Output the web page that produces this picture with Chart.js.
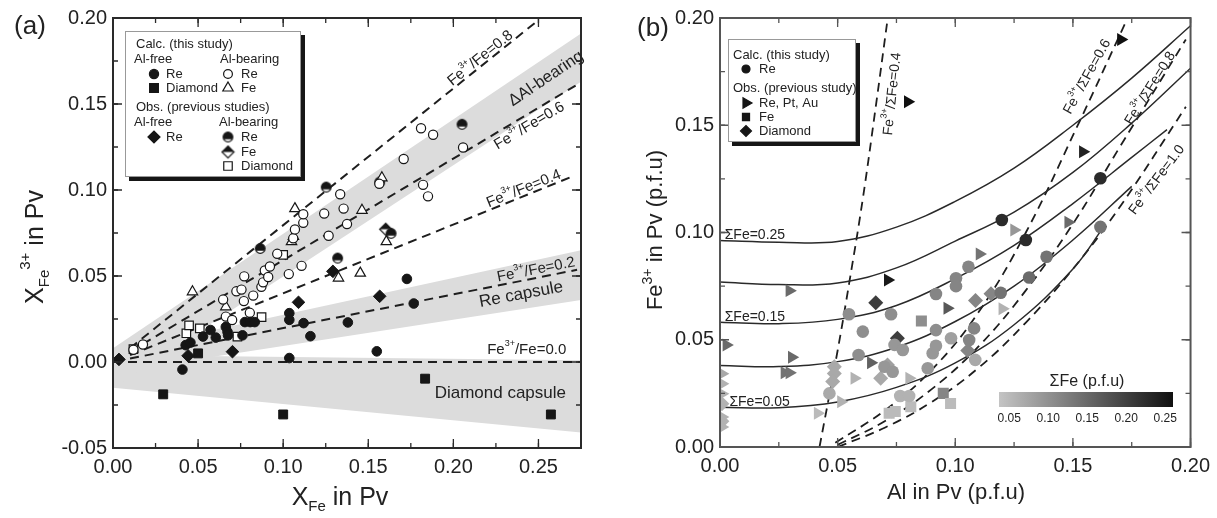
<!DOCTYPE html>
<html>
<head>
<meta charset="utf-8">
<title>Fe3+ in Pv</title>
<script src="https://cdn.jsdelivr.net/npm/chart.js@4.4.1/dist/chart.umd.min.js"></script>
<style>
  html, body { margin: 0; padding: 0; background: #fff; }
  #wrap { position: relative; width: 1217px; height: 518px; overflow: hidden; }
  canvas { position: absolute; top: 0; }
  #chartA { left: 0; }
  #chartB { left: 600px; }
</style>
</head>
<body>
<div id="wrap">
  <canvas id="chartA" width="600" height="518" style="width:600px;height:518px"></canvas>
  <canvas id="chartB" width="617" height="518" style="width:617px;height:518px"></canvas>
</div>
<script>
// ---------- panel (a): X_Fe3+ against X_Fe ----------
// Calc. (this study), Al-free
const calcFreeReX = [0.0408, 0.0427, 0.0455, 0.0529, 0.0573, 0.0604, 0.0663, 0.0673, 0.0676, 0.0761, 0.0775, 0.0806, 0.0833, 0.1036, 0.1036, 0.1120, 0.1160, 0.1380, 0.1036, 0.1550, 0.1727, 0.1767];
const calcFreeReY = [-0.0044, 0.0098, 0.0113, 0.0148, 0.0186, 0.0142, 0.0204, 0.0175, 0.0155, 0.0155, 0.0232, 0.0232, 0.0232, 0.0284, 0.0245, 0.0226, 0.0150, 0.0230, 0.0023, 0.0062, 0.0483, 0.0340];
const calcFreeDiaX = [0.0295, 0.0500, 0.1000, 0.1834, 0.2573];
const calcFreeDiaY = [-0.0188, 0.0050, -0.0305, -0.0097, -0.0305];
// Calc. (this study), Al-bearing
const calcAlReX = [0.0120, 0.0176, 0.0647, 0.0663, 0.0700, 0.0725, 0.0755, 0.0769, 0.0771, 0.0804, 0.0824, 0.0872, 0.0882, 0.0892, 0.0912, 0.0922, 0.0965, 0.1033, 0.1059, 0.1069, 0.1108, 0.1118, 0.1118, 0.1241, 0.1267, 0.1335, 0.1355, 0.1375, 0.1565, 0.1708, 0.1810, 0.1822, 0.1851, 0.1881, 0.2057];
const calcAlReY = [0.0071, 0.0102, 0.0363, 0.0264, 0.0244, 0.0411, 0.0421, 0.0354, 0.0498, 0.0286, 0.0386, 0.0437, 0.0463, 0.0532, 0.0494, 0.0555, 0.0629, 0.0511, 0.0719, 0.0771, 0.0559, 0.0809, 0.0859, 0.0863, 0.0734, 0.0975, 0.0892, 0.0802, 0.1036, 0.1180, 0.1359, 0.1030, 0.0963, 0.1321, 0.1247];
const calcAlFeX = [0.0467, 0.0663, 0.1049, 0.1060, 0.1069, 0.1325, 0.1453, 0.1463, 0.1580, 0.1606];
const calcAlFeY = [0.0408, 0.0321, 0.0700, 0.0730, 0.0892, 0.0488, 0.0517, 0.0882, 0.1071, 0.0700];
// Obs. (previous studies)
const obsFreeReX = [0.0035, 0.0441, 0.0702, 0.1090, 0.1292, 0.1567];
const obsFreeReY = [0.0015, 0.0036, 0.0060, 0.0347, 0.0527, 0.0382];
const obsAlReX = [0.0865, 0.1253, 0.1320, 0.1567, 0.1634, 0.2051];
const obsAlReY = [0.0660, 0.1017, 0.0604, 0.1046, 0.0748, 0.1382];
const obsAlFeX = [0.1602];
const obsAlFeY = [0.0772];
const obsAlDiaX = [0.0120, 0.0431, 0.0447, 0.0510, 0.0731, 0.0873, 0.1000];
const obsAlDiaY = [0.0075, 0.0167, 0.0213, 0.0196, 0.0148, 0.0261, 0.0623];
// Fe3+/Fe reference lines (end points)
const ratioNames = ['0.0', '0.2', '0.4', '0.6', '0.8'];
const ratioLineX = [[0, 0.275], [0.010, 0.2727], [0.010, 0.2688], [0.010, 0.2757], [0.010, 0.2490]];
const ratioLineY = [[0, 0], [0.0020, 0.0536], [0.0040, 0.1074], [0.0060, 0.1630], [0.0080, 0.1980]];
// shaded trends
const bandX = [0, 0.275];
const bandAlTop = [0.008, 0.191];
const bandAlBottom = [-0.015, 0.163];
const bandReTop = [0.006, 0.065];
const bandReBottom = [-0.006, 0.036];
const bandDiaTop = [0.004, 0.001];
const bandDiaBottom = [-0.015, -0.041];

// ---------- panel (b): Fe3+ against Al ----------
const calcReX = [0.1198, 0.1300, 0.1617, 0.1617, 0.1388, 0.1314, 0.1056, 0.1003, 0.1003, 0.0918, 0.1193, 0.0918, 0.1080, 0.1059, 0.0548, 0.0727, 0.0607, 0.0589, 0.0699, 0.0734, 0.0742, 0.0777, 0.0883, 0.0904, 0.0918, 0.0982, 0.1085, 0.0465, 0.0766, 0.0804];
const calcReY = [0.1058, 0.0965, 0.1253, 0.1026, 0.0887, 0.0790, 0.0840, 0.0787, 0.0750, 0.0713, 0.0719, 0.0545, 0.0553, 0.0499, 0.0619, 0.0619, 0.0538, 0.0429, 0.0374, 0.0351, 0.0476, 0.0452, 0.0367, 0.0437, 0.0472, 0.0507, 0.0406, 0.0250, 0.0238, 0.0238];
const calcReFe = [0.22, 0.22, 0.22, 0.14, 0.14, 0.15, 0.12, 0.12, 0.12, 0.12, 0.14, 0.11, 0.12, 0.12, 0.11, 0.11, 0.11, 0.11, 0.10, 0.10, 0.10, 0.10, 0.10, 0.10, 0.10, 0.09, 0.08, 0.08, 0.07, 0.07];
const obsReX = [0.0798, 0.1704, 0.1542, 0.0713, 0.1480, 0.1250, 0.1103, 0.0966, 0.0295, 0.0027, 0.0305, 0.0274, 0.0295, 0.0641, 0.0571, 0.0804, 0.0514, 0.0415, 0.1200, 0.0008, 0.0008, 0.0008, 0.0008, 0.0008];
const obsReY = [0.1610, 0.1900, 0.1377, 0.0779, 0.1048, 0.1012, 0.0900, 0.0647, 0.0729, 0.0476, 0.0418, 0.0346, 0.0346, 0.0393, 0.0320, 0.0320, 0.0211, 0.0157, 0.0644, 0.0342, 0.0295, 0.0248, 0.0140, 0.0093];
const obsReFe = [0.25, 0.25, 0.23, 0.24, 0.15, 0.10, 0.14, 0.17, 0.15, 0.15, 0.15, 0.14, 0.14, 0.16, 0.07, 0.07, 0.07, 0.06, 0.07, 0.08, 0.07, 0.07, 0.07, 0.07];
const obsFeX = [0.0856, 0.0949, 0.0980, 0.0719, 0.0745, 0.0811];
const obsFeY = [0.0587, 0.0250, 0.0203, 0.0157, 0.0165, 0.0188];
const obsFeFe = [0.11, 0.12, 0.06, 0.06, 0.06, 0.06];
const obsDiaX = [0.0662, 0.0754, 0.1086, 0.1152, 0.1053, 0.0683, 0.0712, 0.0486, 0.0486, 0.0479, 0.0008, 0.0008];
const obsDiaY = [0.0673, 0.0507, 0.0683, 0.0714, 0.0450, 0.0320, 0.0382, 0.0374, 0.0343, 0.0305, 0.0202, 0.0120];
const obsDiaFe = [0.20, 0.20, 0.12, 0.12, 0.12, 0.08, 0.09, 0.08, 0.08, 0.08, 0.07, 0.07];
// sumFe curves (solid)
const sumFeNames = ['0.25', '0.20', '0.15', '0.10', '0.05'];
const sumFeX = [
  [0, 0.025, 0.05, 0.075, 0.1, 0.125, 0.15, 0.175, 0.2],
  [0, 0.025, 0.05, 0.075, 0.1, 0.125, 0.15, 0.175, 0.2],
  [0, 0.025, 0.05, 0.075, 0.1, 0.125, 0.15, 0.175, 0.19],
  [0, 0.025, 0.05, 0.075, 0.1, 0.125, 0.15, 0.175],
  [0, 0.025, 0.05, 0.075, 0.1, 0.125, 0.15, 0.163]
];
const sumFeY = [
  [0.0963, 0.0955, 0.0958, 0.1025, 0.1145, 0.1300, 0.1500, 0.1720, 0.1964],
  [0.0769, 0.0757, 0.0765, 0.0835, 0.0960, 0.1095, 0.1280, 0.1510, 0.1766],
  [0.0582, 0.0575, 0.0595, 0.0660, 0.0785, 0.0940, 0.1135, 0.1350, 0.1480],
  [0.0380, 0.0375, 0.0398, 0.0465, 0.0585, 0.0750, 0.0965, 0.1215],
  [0.0185, 0.0183, 0.0210, 0.0278, 0.0392, 0.0570, 0.0830, 0.1025]
];
// Fe3+/sumFe curves (dashed)
const ratioBNames = ['0.4', '0.6', '0.8', '1.0'];
const ratioBX = [
  [0.0423, 0.0500, 0.0550, 0.0606, 0.0660, 0.0713],
  [0.049, 0.070, 0.090, 0.110, 0.130, 0.1525, 0.172],
  [0.050, 0.070, 0.090, 0.110, 0.130, 0.150, 0.170, 0.198],
  [0.050, 0.070, 0.090, 0.110, 0.130, 0.150, 0.170, 0.198]
];
const ratioBY = [
  [0.0000, 0.0450, 0.0770, 0.1150, 0.1570, 0.2000],
  [0.002, 0.017, 0.036, 0.063, 0.100, 0.151, 0.197],
  [0.001, 0.012, 0.027, 0.047, 0.073, 0.104, 0.140, 0.190],
  [0.000, 0.009, 0.021, 0.037, 0.058, 0.083, 0.112, 0.1586]
];
const colorbarTicks = ['0.05', '0.10', '0.15', '0.20', '0.25'];

// ---------- helpers ----------
const FONT = "'Liberation Sans', Arial, sans-serif";
Chart.defaults.font.family = FONT;
Chart.defaults.color = '#222';
const INK = '#161616';

function pts(xs, ys) { return xs.map((x, i) => ({ x: x, y: ys[i] })); }

function feGray(s) {
  const t = Math.max(0, Math.min(1, (s - 0.05) / 0.2));
  const g = Math.round(196 - t * 180);
  return 'rgb(' + g + ',' + g + ',' + g + ')';
}

// text with super/subscripts: parts = [text, size, dy]
function rich(ctx, parts, x, y, angle, align) {
  ctx.save();
  ctx.translate(x, y);
  ctx.rotate(angle || 0);
  ctx.textBaseline = 'middle';
  ctx.fillStyle = '#222';
  let w = 0;
  parts.forEach(p => { ctx.font = p[1] + 'px ' + FONT; w += ctx.measureText(p[0]).width; });
  let cx = align === 'left' ? 0 : -w / 2;
  parts.forEach(p => {
    ctx.font = p[1] + 'px ' + FONT;
    ctx.fillText(p[0], cx, p[2] || 0);
    cx += ctx.measureText(p[0]).width;
  });
  ctx.restore();
}

function marker(ctx, style, x, y, r, fill, stroke, rot) {
  ctx.save();
  ctx.fillStyle = fill;
  ctx.strokeStyle = stroke;
  ctx.lineWidth = 1.2;
  Chart.helpers.drawPoint(ctx, { pointStyle: style, radius: r, rotation: rot || 0, borderWidth: 1.2 }, x, y);
  ctx.restore();
}

function halfCircle(r) {
  const c = document.createElement('canvas');
  const s = Math.ceil(2 * r + 3);
  c.width = c.height = s;
  const g = c.getContext('2d'), m = s / 2;
  g.beginPath(); g.arc(m, m, r, 0, 2 * Math.PI); g.fillStyle = '#fff'; g.fill();
  g.beginPath(); g.arc(m, m, r, Math.PI * 0.85, Math.PI * 2.15); g.closePath(); g.fillStyle = INK; g.fill();
  g.beginPath(); g.arc(m, m, r, 0, 2 * Math.PI); g.lineWidth = 1.2; g.strokeStyle = INK; g.stroke();
  return c;
}

function halfDiamond(r) {
  const c = document.createElement('canvas');
  const s = Math.ceil(2 * r + 3);
  c.width = c.height = s;
  const g = c.getContext('2d'), m = s / 2;
  g.beginPath(); g.moveTo(m, m - r); g.lineTo(m + r, m); g.lineTo(m, m + r); g.lineTo(m - r, m); g.closePath();
  g.fillStyle = '#fff'; g.fill();
  g.lineWidth = 1.2; g.strokeStyle = INK; g.stroke();
  g.beginPath(); g.moveTo(m, m - r); g.lineTo(m + r, m); g.lineTo(m - r, m); g.closePath();
  g.fillStyle = INK; g.fill();
  return c;
}

const halfCircleImg = halfCircle(4.8);
const halfDiamondImg = halfDiamond(6);

function tickText(v) {
  if (Math.abs(v * 20 - Math.round(v * 20)) > 1e-6) return '';
  if (Math.abs(v) < 1e-9) return '0.00';
  return v.toFixed(2);
}

function axis(min, max, size, pad) {
  return {
    type: 'linear', min: min, max: max,
    grid: { display: false, drawTicks: false },
    border: { display: false },
    ticks: { stepSize: 0.025, autoSkip: false, maxRotation: 0, minRotation: 0, padding: pad, color: '#222', font: { size: 20 }, callback: v => tickText(v) },
    afterFit: s => { if (s.isHorizontal()) s.height = size; else s.width = size; }
  };
}

function scatterSet(xs, ys, style) {
  return Object.assign({ type: 'scatter', data: pts(xs, ys), order: 1 }, style);
}
function lineSet(xs, ys, style) {
  return Object.assign({ type: 'line', data: pts(xs, ys), order: 2, pointRadius: 0, fill: false, tension: 0 }, style);
}

// frame and inward ticks on all four sides
const frameTicks = {
  id: 'frameTicks',
  afterDraw(chart, args, o) {
    const ctx = chart.ctx, a = chart.chartArea;
    ctx.save();
    ctx.strokeStyle = o.color;
    ctx.lineWidth = 1.3;
    const mark = (scale, step, len) => {
      const n = Math.round((scale.max - scale.min) / step);
      for (let i = 0; i <= n; i++) {
        const p = scale.getPixelForValue(scale.min + i * step);
        ctx.beginPath();
        if (scale.isHorizontal()) {
          ctx.moveTo(p, a.bottom); ctx.lineTo(p, a.bottom - len);
          ctx.moveTo(p, a.top); ctx.lineTo(p, a.top + len);
        } else {
          ctx.moveTo(a.left, p); ctx.lineTo(a.left + len, p);
          ctx.moveTo(a.right, p); ctx.lineTo(a.right - len, p);
        }
        ctx.stroke();
      }
    };
    mark(chart.scales.x, 0.025, 5);
    mark(chart.scales.x, 0.05, 9);
    mark(chart.scales.y, 0.025, 5);
    mark(chart.scales.y, 0.05, 9);
    ctx.lineWidth = o.width;
    ctx.strokeRect(a.left, a.top, a.right - a.left, a.bottom - a.top);
    ctx.restore();
  }
};

// ---------- panel (a) decorations ----------
const ratioLabelAt = [[0.2431, 0.0071], [0.2486, 0.0536], [0.2414, 0.1007], [0.2447, 0.1373], [0.2159, 0.1766]];

const decoA = {
  id: 'decoA',
  afterDraw(chart) {
    const ctx = chart.ctx, sx = chart.scales.x, sy = chart.scales.y;
    const px = v => sx.getPixelForValue(v), py = v => sy.getPixelForValue(v);
    const slope = (x0, y0, x1, y1) => Math.atan2(py(y1) - py(y0), px(x1) - px(x0));

    ratioNames.forEach((r, i) => {
      const X = ratioLineX[i], Y = ratioLineY[i];
      const ang = i === 0 ? 0 : slope(X[0], Y[0], X[1], Y[1]);
      rich(ctx, [['Fe', 15], ['3+', 9, -6], ['/Fe=' + r, 15]], px(ratioLabelAt[i][0]), py(ratioLabelAt[i][1]), ang);
    });
    rich(ctx, [['\u0394Al-bearing', 16.5]], px(0.2545), py(0.1648), slope(0, bandAlTop[0], 0.275, bandAlTop[1]));
    rich(ctx, [['Re capsule', 17]], px(0.2398), py(0.0392),
      slope(0, (bandReTop[0] + bandReBottom[0]) / 2, 0.275, (bandReTop[1] + bandReBottom[1]) / 2));
    rich(ctx, [['Diamond capsule', 17]], px(0.2276), py(-0.018), 0);

    // axis titles and panel label
    rich(ctx, [['X', 25], ['Fe', 15, 9], [' in Pv', 25]], 340, 498, 0);
    rich(ctx, [['X', 25], ['Fe', 15, 9], ['3+', 15, -10], [' in Pv', 25]], 36, 247, -Math.PI / 2);
    rich(ctx, [['(a)', 26]], 30, 27, 0);

    // legend
    const L = 125, T = 31, R = 301, B = 177;
    ctx.save();
    ctx.fillStyle = INK;
    ctx.fillRect(L + 4, T + 4, R - L, B - T);
    ctx.fillStyle = '#fff';
    ctx.fillRect(L, T, R - L, B - T);
    ctx.strokeStyle = '#999';
    ctx.lineWidth = 1;
    ctx.strokeRect(L + 0.5, T + 0.5, R - L - 1, B - T - 1);
    ctx.restore();
    const t = (s, x, y) => rich(ctx, [[s, 13]], x, y, 0, 'left');
    t('Calc. (this study)', 136, 44);
    t('Al-free', 134, 59); t('Al-bearing', 220, 59);
    marker(ctx, 'circle', 154, 74, 4.6, INK, INK); t('Re', 166, 74);
    marker(ctx, 'rect', 154, 88, 6.2, INK, INK); t('Diamond', 166, 88);
    marker(ctx, 'circle', 228, 74, 4.4, '#fff', INK); t('Re', 241, 74);
    marker(ctx, 'triangle', 228, 88, 6, '#fff', INK); t('Fe', 241, 88);
    t('Obs. (previous studies)', 136, 107);
    t('Al-free', 134, 122); t('Al-bearing', 219, 122);
    marker(ctx, 'rectRot', 154, 137, 6, INK, INK); t('Re', 166, 137);
    marker(ctx, halfCircleImg, 228, 137, 5, INK, INK); t('Re', 241, 137);
    marker(ctx, halfDiamondImg, 228, 152, 6, INK, INK); t('Fe', 241, 152);
    marker(ctx, 'rect', 228, 166, 6, '#fff', INK); t('Diamond', 241, 166);
  }
};

const bandStyle = { order: 3, borderWidth: 0, backgroundColor: '#dcdcdc' };
const dash = { borderColor: '#1e1e1e', borderWidth: 2, borderDash: [9, 6] };

const dsA = [
  scatterSet(calcFreeReX, calcFreeReY, { pointStyle: 'circle', pointRadius: 4.8, backgroundColor: INK, borderColor: INK, borderWidth: 1 }),
  scatterSet(calcFreeDiaX, calcFreeDiaY, { pointStyle: 'rect', pointRadius: 6.3, backgroundColor: INK, borderColor: INK, borderWidth: 1 }),
  scatterSet(calcAlReX, calcAlReY, { pointStyle: 'circle', pointRadius: 4.6, backgroundColor: '#fff', borderColor: INK, borderWidth: 1.2 }),
  scatterSet(calcAlFeX, calcAlFeY, { pointStyle: 'triangle', pointRadius: 6, backgroundColor: '#fff', borderColor: INK, borderWidth: 1.2 }),
  scatterSet(obsFreeReX, obsFreeReY, { pointStyle: 'rectRot', pointRadius: 6.3, backgroundColor: INK, borderColor: INK, borderWidth: 1 }),
  scatterSet(obsAlReX, obsAlReY, { pointStyle: halfCircleImg, pointRadius: 5 }),
  scatterSet(obsAlFeX, obsAlFeY, { pointStyle: halfDiamondImg, pointRadius: 6 }),
  scatterSet(obsAlDiaX, obsAlDiaY, { pointStyle: 'rect', pointRadius: 6, backgroundColor: '#fff', borderColor: INK, borderWidth: 1.2 })
];
ratioNames.forEach((r, i) => dsA.push(lineSet(ratioLineX[i], ratioLineY[i], dash)));
[[bandAlTop, bandAlBottom], [bandReTop, bandReBottom], [bandDiaTop, bandDiaBottom]].forEach(b => {
  dsA.push(lineSet(bandX, b[0], Object.assign({ fill: '+1' }, bandStyle)));
  dsA.push(lineSet(bandX, b[1], bandStyle));
});

new Chart(document.getElementById('chartA'), {
  type: 'scatter',
  data: { datasets: dsA },
  options: {
    responsive: false, animation: false, devicePixelRatio: 1,
    layout: { padding: { left: 0, right: 19, top: 16, bottom: 0 } },
    plugins: { legend: { display: false }, tooltip: { enabled: false }, frameTicks: { color: '#2a2a2a', width: 2 } },
    scales: { x: axis(0, 0.275, 70, 7), y: axis(-0.05, 0.20, 113, 6) }
  },
  plugins: [frameTicks, decoA]
});

// ---------- panel (b) decorations ----------
const sumFeLabelAt = [[0.002, 0.0988], [0.002, 0.0605], [0.004, 0.0211]];
const sumFeLabelNames = ['0.25', '0.15', '0.05'];
const ratioBLabelAt = [[0.0733, 0.1646], [0.1561, 0.1726], [0.1829, 0.1672], [0.1857, 0.1245]];
const ratioBLabelAngle = [-84, -61, -58, -53];

const decoB = {
  id: 'decoB',
  afterDraw(chart) {
    const ctx = chart.ctx, sx = chart.scales.x, sy = chart.scales.y;
    const px = v => sx.getPixelForValue(v), py = v => sy.getPixelForValue(v);

    sumFeLabelNames.forEach((n, i) => {
      rich(ctx, [['\u03A3Fe=' + n, 14]], px(sumFeLabelAt[i][0]), py(sumFeLabelAt[i][1]), 0, 'left');
    });
    ratioBNames.forEach((n, i) => {
      rich(ctx, [['Fe', 14], ['3+', 9, -6], ['/\u03A3Fe=' + n, 14]], px(ratioBLabelAt[i][0]), py(ratioBLabelAt[i][1]), ratioBLabelAngle[i] * Math.PI / 180);
    });

    // colour bar
    const cb = { left: 399, right: 573, top: 392, bottom: 407, lo: 0.037, hi: 0.26 };
    const grad = ctx.createLinearGradient(cb.left, 0, cb.right, 0);
    grad.addColorStop(0, feGray(cb.lo));
    grad.addColorStop(1, feGray(cb.hi));
    ctx.save();
    ctx.fillStyle = grad;
    ctx.fillRect(cb.left, cb.top, cb.right - cb.left, cb.bottom - cb.top);
    ctx.restore();
    colorbarTicks.forEach(s => {
      const v = parseFloat(s);
      rich(ctx, [[s, 12]], cb.left + (v - cb.lo) / (cb.hi - cb.lo) * (cb.right - cb.left), 419, 0);
    });
    rich(ctx, [['\u03A3Fe (p.f.u)', 16]], 487, 382, 0);

    // axis titles and panel label
    rich(ctx, [['Al in Pv (p.f.u)', 22]], 356, 493, 0);
    rich(ctx, [['Fe', 22], ['3+', 14, -8], [' in Pv (p.f.u)', 22]], 56, 230, -Math.PI / 2);
    rich(ctx, [['(b)', 26]], 53, 29, 0);

    // legend
    const L = 128, T = 39, R = 256, B = 142;
    ctx.save();
    ctx.fillStyle = INK;
    ctx.fillRect(L + 4, T + 4, R - L, B - T);
    ctx.fillStyle = '#fff';
    ctx.fillRect(L, T, R - L, B - T);
    ctx.strokeStyle = '#999';
    ctx.lineWidth = 1;
    ctx.strokeRect(L + 0.5, T + 0.5, R - L - 1, B - T - 1);
    ctx.restore();
    const t = (s, x, y) => rich(ctx, [[s, 13]], x, y, 0, 'left');
    t('Calc. (this study)', 133, 55);
    marker(ctx, 'circle', 146, 69, 4, INK, INK); t('Re', 159, 69);
    t('Obs. (previous study)', 133, 88);
    marker(ctx, 'triangle', 146, 103, 6, INK, INK, 90); t('Re, Pt, Au', 159, 103);
    marker(ctx, 'rect', 146, 117, 5, INK, INK); t('Fe', 159, 117);
    marker(ctx, 'rectRot', 146, 131, 5.5, INK, INK); t('Diamond', 159, 131);
  }
};

const dsB = [
  scatterSet(calcReX, calcReY, { pointStyle: 'circle', pointRadius: 6.3, backgroundColor: calcReFe.map(feGray), borderWidth: 0 }),
  scatterSet(obsReX, obsReY, { pointStyle: 'triangle', pointRotation: 90, pointRadius: 7.5, backgroundColor: obsReFe.map(feGray), borderWidth: 0 }),
  scatterSet(obsFeX, obsFeY, { pointStyle: 'rect', pointRadius: 7.8, backgroundColor: obsFeFe.map(feGray), borderWidth: 0 }),
  scatterSet(obsDiaX, obsDiaY, { pointStyle: 'rectRot', pointRadius: 7.5, backgroundColor: obsDiaFe.map(feGray), borderWidth: 0 })
];
sumFeNames.forEach((n, i) => dsB.push(lineSet(sumFeX[i], sumFeY[i], { borderColor: '#2a2a2a', borderWidth: 1.5, tension: 0.4 })));
ratioBNames.forEach((n, i) => dsB.push(lineSet(ratioBX[i], ratioBY[i], { borderColor: '#1e1e1e', borderWidth: 1.8, borderDash: [9, 6], tension: 0.4 })));

new Chart(document.getElementById('chartB'), {
  type: 'scatter',
  data: { datasets: dsB },
  options: {
    responsive: false, animation: false, devicePixelRatio: 1,
    layout: { padding: { left: 0, right: 25, top: 18, bottom: 0 } },
    plugins: { legend: { display: false }, tooltip: { enabled: false }, frameTicks: { color: '#555', width: 2 } },
    scales: { x: axis(0, 0.20, 71, 7), y: axis(0, 0.20, 120, 6) }
  },
  plugins: [frameTicks, decoB]
});
</script>
</body>
</html>
